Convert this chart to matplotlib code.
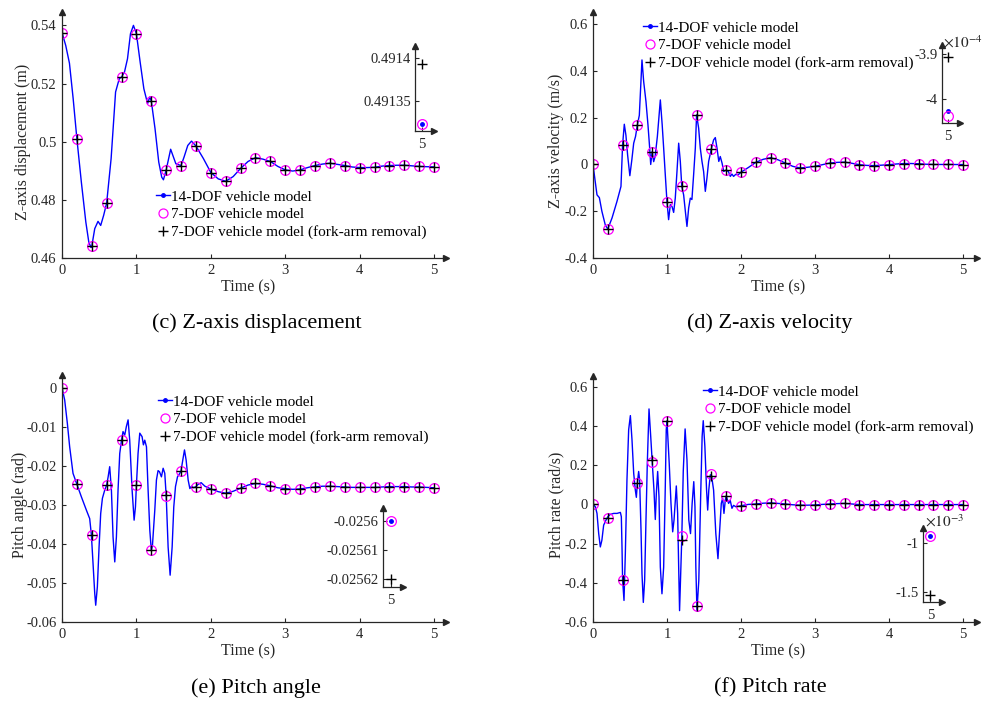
import numpy as np
import matplotlib
matplotlib.use('Agg')
import matplotlib.pyplot as plt
import matplotlib.transforms as mtransforms
from matplotlib.lines import Line2D
from matplotlib.ticker import FormatStrFormatter

plt.rcParams['font.family'] = ['Liberation Serif', 'DejaVu Serif']
plt.rcParams['axes.unicode_minus'] = False
plt.rcParams['mathtext.fontset'] = 'stix'

# sample times of the 7-DOF results
t_mark = [0, 0.2, 0.4, 0.6, 0.8, 1.0, 1.2, 1.4, 1.6, 1.8, 2.0, 2.2, 2.4,
          2.6, 2.8, 3.0, 3.2, 3.4, 3.6, 3.8, 4.0, 4.2, 4.4, 4.6, 4.8, 5.0]

# (c) Z-axis displacement
t_zd = [0, 0.05, 0.1, 0.15, 0.2, 0.26, 0.32, 0.36, 0.39, 0.4, 0.44, 0.484, 0.52,
        0.56, 0.6, 0.66, 0.72, 0.77, 0.8, 0.84, 0.88, 0.92, 0.96, 1.0, 1.05, 1.1,
        1.15, 1.18, 1.2, 1.25, 1.3, 1.34, 1.363, 1.4, 1.46, 1.53, 1.6, 1.64, 1.69,
        1.74, 1.8, 1.9, 2.0, 2.1, 2.2, 2.3, 2.4, 2.5, 2.6, 2.7, 2.8, 2.9, 3.0, 3.1,
        3.2, 3.3, 3.4, 3.5, 3.6, 3.7, 3.8, 3.9, 4.0, 4.1, 4.2, 4.3, 4.4, 4.5, 4.6,
        4.7, 4.8, 4.9, 5.0]
zd_14 = [0.5375, 0.5331, 0.5270, 0.5148, 0.5010, 0.4861, 0.4724, 0.4655, 0.4636,
         0.4640, 0.4701, 0.4726, 0.4712, 0.4747, 0.4789, 0.4942, 0.5171, 0.5217,
         0.5222, 0.5240, 0.5285, 0.5371, 0.5400, 0.5371, 0.5274, 0.5182, 0.5131,
         0.5154, 0.5140, 0.5045, 0.4930, 0.4878, 0.4869, 0.4903, 0.4974, 0.4924,
         0.4918, 0.4947, 0.4987, 0.5002, 0.4985, 0.4942, 0.4894, 0.4872, 0.4864,
         0.4880, 0.4908, 0.4932, 0.4945, 0.4940, 0.4932, 0.4915, 0.4903, 0.4899,
         0.4903, 0.4911, 0.4918, 0.4923, 0.4926, 0.4922, 0.4918, 0.4913, 0.4911,
         0.4911, 0.4912, 0.4916, 0.4918, 0.4919, 0.4919, 0.4917, 0.4915, 0.4914,
         0.491323]
zd_7 = [0.5375, 0.5010, 0.4640, 0.4789, 0.5222, 0.5371, 0.5140, 0.4903, 0.4918,
        0.4985, 0.4894, 0.4864, 0.4908, 0.4945, 0.4932, 0.4903, 0.4903, 0.4918,
        0.4926, 0.4918, 0.4911, 0.4912, 0.4918, 0.4919, 0.4915, 0.491323]
zd_7f = [0.5375, 0.5010, 0.4640, 0.4789, 0.5222, 0.5371, 0.5140, 0.4903, 0.4918,
         0.4985, 0.4894, 0.4864, 0.4908, 0.4945, 0.4932, 0.4903, 0.4903, 0.4918,
         0.4926, 0.4918, 0.4911, 0.4912, 0.4918, 0.4919, 0.4915, 0.491393]

# (d) Z-axis velocity
t_zv = [0, 0.03, 0.054, 0.086, 0.12, 0.167, 0.2, 0.257, 0.324, 0.378, 0.4, 0.423,
        0.445, 0.468, 0.498, 0.525, 0.55, 0.575, 0.6, 0.626, 0.662, 0.685, 0.716,
        0.743, 0.766, 0.78, 0.8, 0.82, 0.84, 0.87, 0.91, 0.935, 0.955, 0.977, 1.0,
        1.022, 1.045, 1.068, 1.09, 1.112, 1.135, 1.158, 1.18, 1.2, 1.225, 1.248,
        1.27, 1.293, 1.315, 1.337, 1.36, 1.383, 1.4, 1.428, 1.45, 1.473, 1.495,
        1.518, 1.54, 1.563, 1.6, 1.63, 1.653, 1.676, 1.7, 1.72, 1.745, 1.766, 1.8,
        1.83, 1.856, 1.878, 1.9, 1.93, 1.96, 2.0, 2.1, 2.2, 2.3, 2.4, 2.5, 2.6,
        2.7, 2.8, 2.9, 3.0, 3.1, 3.2, 3.3, 3.4, 3.5, 3.6, 3.7, 3.8, 3.9, 4.0, 4.1,
        4.2, 4.3, 4.4, 4.5, 4.6, 4.7, 4.8, 4.9, 5.0]
zv_14 = [0, -0.073, -0.13, -0.142, -0.20, -0.26, -0.276, -0.229, -0.158, -0.094,
         0.084, 0.172, 0.125, 0.04, -0.048, 0.02, 0.091, 0.12, 0.17, 0.21, 0.447,
         0.354, 0.269, 0.169, 0.07, 0.0, 0.055, 0.012, 0.035, 0.12, 0.276, 0.17,
         0.07, -0.044, -0.16, -0.236, -0.172, -0.18, -0.205, -0.144, -0.03, 0.091,
         0.013, -0.094, -0.13, -0.2, -0.265, -0.186, -0.144, -0.15, -0.044, 0.07,
         0.212, 0.155, 0.07, 0.013, -0.03, -0.115, -0.058, 0.013, 0.067, 0.105,
         0.115, 0.07, 0.013, 0.034, 0.005, -0.03, -0.024, -0.03, -0.051, -0.041,
         -0.051, -0.042, -0.045, -0.033, -0.013, 0.009, 0.022, 0.029, 0.02, 0.006,
         -0.008, -0.015, -0.012, -0.008, -0.001, 0.006, 0.009, 0.010, 0.005, -0.001,
         -0.004, -0.005, -0.003, -0.001, 0.002, 0.004, 0.004, 0.003, 0.001, 0.0,
         0.0, 0.0, -0.0002, -4.027e-4]
zv_7 = [0, -0.276, 0.084, 0.17, 0.055, -0.16, -0.094, 0.212, 0.067, -0.024, -0.033,
        0.009, 0.029, 0.006, -0.015, -0.008, 0.006, 0.010, -0.001, -0.005, -0.001,
        0.004, 0.003, 0.0, 0.0, -4.037e-4]
zv_7f = [0, -0.276, 0.084, 0.17, 0.055, -0.16, -0.094, 0.212, 0.067, -0.024, -0.033,
         0.009, 0.029, 0.006, -0.015, -0.008, 0.006, 0.010, -0.001, -0.005, -0.001,
         0.004, 0.003, 0.0, 0.0, -3.907e-4]

# (e) Pitch angle
t_pa = [0, 0.036, 0.072, 0.103, 0.148, 0.2, 0.26, 0.327, 0.372, 0.395, 0.417, 0.44,
        0.453, 0.475, 0.498, 0.52, 0.543, 0.574, 0.6, 0.62, 0.641, 0.664, 0.686,
        0.709, 0.731, 0.753, 0.776, 0.8, 0.82, 0.843, 0.865, 0.888, 0.91, 0.942,
        0.969, 0.987, 1.0, 1.022, 1.045, 1.076, 1.094, 1.112, 1.135, 1.157, 1.18,
        1.2, 1.215, 1.247, 1.269, 1.291, 1.31, 1.336, 1.359, 1.381, 1.4, 1.426,
        1.453, 1.48, 1.502, 1.525, 1.552, 1.583, 1.6, 1.623, 1.646, 1.668, 1.695,
        1.718, 1.74, 1.77, 1.8, 1.83, 1.87, 1.92, 2.0, 2.1, 2.2, 2.3, 2.4, 2.5,
        2.6, 2.7, 2.8, 2.9, 3.0, 3.1, 3.2, 3.3, 3.4, 3.5, 3.6, 3.7, 3.8, 3.9, 4.0,
        4.1, 4.2, 4.3, 4.4, 4.5, 4.6, 4.7, 4.8, 4.9, 5.0]
pa_14 = [0, -0.0031, -0.0091, -0.0151, -0.0219, -0.0247, -0.0279, -0.0313, -0.0335,
         -0.0377, -0.045, -0.0527, -0.0557, -0.051, -0.0408, -0.0322, -0.0283,
         -0.0262, -0.0249, -0.0228, -0.0202, -0.0262, -0.0382, -0.0446, -0.0382,
         -0.0262, -0.0168, -0.0134, -0.0112, -0.0121, -0.0099, -0.0082, -0.0134,
         -0.0262, -0.0339, -0.0305, -0.0249, -0.0168, -0.0116, -0.0125, -0.0146,
         -0.0134, -0.0151, -0.0262, -0.0365, -0.0416, -0.0405, -0.0313, -0.0236,
         -0.0212, -0.0215, -0.0228, -0.0206, -0.0219, -0.0276, -0.0408, -0.048,
         -0.0408, -0.0305, -0.0253, -0.0228, -0.0219, -0.0212, -0.0185, -0.0159,
         -0.0185, -0.0236, -0.0258, -0.0252, -0.0256, -0.0253, -0.0247, -0.0243,
         -0.0252, -0.0259, -0.0266, -0.0270, -0.0265, -0.0257, -0.0249, -0.0245,
         -0.0247, -0.0251, -0.0256, -0.0258, -0.0260, -0.0259, -0.0256, -0.0254,
         -0.0252, -0.0252, -0.0253, -0.0254, -0.0255, -0.0255, -0.0255, -0.0255,
         -0.0254, -0.0253, -0.0253, -0.0253, -0.0254, -0.0254, -0.0255, -0.0256]
pa_7 = [0, -0.0247, -0.0377, -0.0249, -0.0134, -0.0249, -0.0416, -0.0277, -0.0212,
        -0.0253, -0.0259, -0.0270, -0.0257, -0.0245, -0.0251, -0.0258, -0.0259,
        -0.0254, -0.0252, -0.0254, -0.0255, -0.0255, -0.0253, -0.0253, -0.0254,
        -0.0256]
pa_7f = [0, -0.0247, -0.0377, -0.0249, -0.0134, -0.0249, -0.0416, -0.0274, -0.0212,
         -0.0253, -0.0259, -0.0270, -0.0257, -0.0245, -0.0251, -0.0258, -0.0259,
         -0.0254, -0.0252, -0.0254, -0.0255, -0.0255, -0.0253, -0.0253, -0.0254,
         -0.02562]

# (f) Pitch rate
t_pr = [0, 0.032, 0.054, 0.077, 0.099, 0.12, 0.144, 0.176, 0.2, 0.234, 0.28, 0.324,
        0.37, 0.383, 0.392, 0.4, 0.419, 0.437, 0.459, 0.482, 0.505, 0.527, 0.55,
        0.572, 0.586, 0.6, 0.617, 0.63, 0.649, 0.662, 0.68, 0.698, 0.716, 0.734,
        0.757, 0.78, 0.8, 0.824, 0.842, 0.856, 0.874, 0.892, 0.91, 0.932, 0.955,
        0.977, 0.99, 1.0, 1.03, 1.054, 1.077, 1.095, 1.113, 1.126, 1.144, 1.158,
        1.17, 1.2, 1.22, 1.245, 1.27, 1.295, 1.318, 1.34, 1.362, 1.378, 1.39, 1.405,
        1.43, 1.455, 1.475, 1.49, 1.512, 1.535, 1.55, 1.565, 1.585, 1.6, 1.63, 1.66,
        1.689, 1.712, 1.734, 1.752, 1.77, 1.788, 1.8, 1.833, 1.855, 1.878, 1.9,
        1.93, 2.0, 2.1, 2.2, 2.3, 2.4, 2.5, 2.6, 2.7, 2.8, 2.9, 3.0, 3.1, 3.2, 3.3,
        3.4, 3.5, 3.6, 3.8, 4.0, 4.2, 4.4, 4.6, 4.8, 5.0]
pr_14 = [0, -0.012, -0.046, -0.149, -0.217, -0.183, -0.106, -0.08, -0.063, -0.051,
         -0.046, -0.046, -0.041, -0.063, -0.217, -0.385, -0.49, -0.251, 0.125, 0.381,
         0.453, 0.33, 0.159, 0.073, 0.036, 0.111, 0.168, 0.125, -0.132, -0.354, -0.5,
         -0.388, -0.08, 0.21, 0.487, 0.347, 0.22, 0.073, -0.077, 0.056, 0.168, 0.039,
         -0.32, -0.456, -0.32, 0.09, 0.38, 0.426, 0.21, 0.005, -0.14, -0.08, 0.022,
         0.094, -0.046, -0.32, -0.542, -0.17, 0.17, 0.385, 0.227, -0.08, -0.149,
         0.005, 0.116, -0.012, -0.32, -0.54, -0.388, 0.039, 0.347, 0.427, 0.296,
         0.073, -0.029, 0.073, 0.15, 0.152, 0.073, -0.149, -0.277, -0.132, 0.005,
         0.031, -0.046, 0.022, 0.043, 0.005, 0.02, -0.02, -0.005, -0.012, -0.007,
         0.0, 0.002, 0.006, 0.008, 0.005, 0.002, -0.002, -0.004, -0.004, -0.003,
         0.0, 0.002, 0.004, 0.005, 0.002, -0.001, -0.001, -0.001, -0.001, -0.001,
         -0.001, -0.001, -0.00093]
pr_7 = [0, -0.067, -0.385, 0.111, 0.215, 0.426, -0.161, -0.518, 0.154, 0.043, -0.007,
        0.002, 0.008, 0.002, -0.004, -0.003, 0.002, 0.005, -0.001, -0.001, -0.001,
        -0.001, -0.001, -0.001, -0.001, -0.00093]
pr_7f = [0, -0.067, -0.385, 0.111, 0.225, 0.426, -0.18, -0.518, 0.147, 0.043, -0.007,
         0.002, 0.008, 0.002, -0.004, -0.003, 0.002, 0.005, -0.001, -0.001, -0.001,
         -0.001, -0.001, -0.001, -0.001, -0.00153]

labels = ['14-DOF vehicle model', '7-DOF vehicle model',
          '7-DOF vehicle model (fork-arm removal)']

W, H = 989, 702
fig = plt.figure(figsize=(9.89, 7.02), dpi=100)


def rect(l, r, b, t):
    return [l / W, 1 - b / H, (r - l) / W, (b - t) / H]


def arrow_axes(ax, ms=5):
    for s in ['top', 'right']:
        ax.spines[s].set_visible(False)
    for s in ['left', 'bottom']:
        ax.spines[s].set_color('#262626')
        ax.spines[s].set_linewidth(0.9)
    ax.plot(1, 0, '>', color='#262626', ms=ms, transform=ax.transAxes, clip_on=False)
    ax.plot(0, 1, '^', color='#262626', ms=ms, transform=ax.transAxes, clip_on=False)
    ax.tick_params(direction='in', length=3, width=0.8, labelsize=10.5, colors='#262626')
    ax.patch.set_alpha(0)


def panel(box, t, v14, v7, v7f, xmax, ylim, yticks, ylabel, ylab_off, leg_xy):
    ax = fig.add_axes(rect(*box))
    ax.plot(t, v14, color='#0000ff', lw=1.0)
    ax.plot(t_mark, v7, ls='none', marker='o', mfc='none', mec='#ff00ff', ms=7, mew=0.9)
    ax.plot(t_mark, v7f, ls='none', marker='+', color='k', ms=7, mew=1.0)
    ax.set_xlim(0, xmax)
    ax.set_ylim(*ylim)
    ax.set_xticks([0, 1, 2, 3, 4, 5])
    ax.set_yticks(yticks)
    ax.yaxis.set_major_formatter(FormatStrFormatter('%g'))
    ax.tick_params(axis='y', pad=4)
    ax.tick_params(axis='x', pad=4)
    arrow_axes(ax)
    ax.set_xlabel('Time (s)', fontsize=11.5, color='#262626')
    ax.xaxis.set_label_coords(2.5, -0.085,
                              transform=mtransforms.blended_transform_factory(ax.transData, ax.transAxes))
    ax.set_ylabel(ylabel, fontsize=11.5, color='#262626')
    axw = (box[1] - box[0])
    ax.yaxis.set_label_coords(-ylab_off / axw, (yticks[0] + yticks[-1]) / 2,
                              transform=mtransforms.blended_transform_factory(ax.transAxes, ax.transData))
    handles = [Line2D([], [], color='#0000ff', lw=1.0, marker='.', ms=5),
               Line2D([], [], ls='none', marker='o', mfc='none', mec='#ff00ff', ms=6.5, mew=0.9),
               Line2D([], [], ls='none', marker='+', color='k', ms=6.5, mew=1.0)]
    ax.legend(handles, labels, loc='upper left', bbox_to_anchor=(leg_xy[0] / W, 1 - leg_xy[1] / H),
              bbox_transform=fig.transFigure, frameon=False, borderpad=0, borderaxespad=0,
              handlelength=0.9, handletextpad=0.05, labelspacing=0.26, fontsize=11)
    return ax


def inset(box, xlim, ylim, yticks, ytlabels, e14, e7, e7f):
    ax = fig.add_axes(rect(*box))
    ax.plot(5, e14, ls='none', marker='.', color='#0000ff', ms=5)
    ax.plot(5, e7, ls='none', marker='o', mfc='none', mec='#ff00ff', ms=7, mew=0.9)
    ax.plot(5, e7f, ls='none', marker='+', color='k', ms=7, mew=1.0)
    ax.set_xlim(*xlim)
    ax.set_ylim(*ylim)
    ax.set_xticks([5])
    ax.set_xticklabels(['5'])
    ax.set_yticks(yticks)
    ax.set_yticklabels(ytlabels)
    arrow_axes(ax, ms=4.5)
    ax.tick_params(axis='y', pad=3)
    ax.tick_params(axis='x', pad=5)
    return ax


ax_c = panel((62, 446, 258, 12), t_zd, zd_14, zd_7, zd_7f, 5.16, (0.46, 0.5446),
             [0.46, 0.48, 0.5, 0.52, 0.54], 'Z-axis displacement (m)', 31, (156, 190))
ax_d = panel((593, 977, 258, 12), t_zv, zv_14, zv_7, zv_7f, 5.19, (-0.4, 0.652),
             [-0.4, -0.2, 0, 0.2, 0.4, 0.6], 'Z-axis velocity (m/s)', 29, (643, 21))
ax_e = panel((62, 446, 622, 375), t_pa, pa_14, pa_7, pa_7f, 5.16, (-0.06, 0.0033),
             [-0.06, -0.05, -0.04, -0.03, -0.02, -0.01, 0], 'Pitch angle (rad)', 34, (158, 395))
ax_f = panel((593, 977, 622, 376), t_pr, pr_14, pr_7, pr_7f, 5.19, (-0.6, 0.655),
             [-0.6, -0.4, -0.2, 0, 0.2, 0.4, 0.6], 'Pitch rate (rad/s)', 29, (703, 385))

inset((415, 434, 131, 46), (4.99, 5.017), (0.491315, 0.491414), [0.49135, 0.4914],
      ['0.49135', '0.4914'], zd_14[-1], zd_7[-1], zd_7f[-1])
inset((942, 960, 123, 45), (4.99, 5.02), (-4.0533e-4, -3.88e-4), [-4e-4, -3.9e-4],
      ['-4', '-3.9'], zv_14[-1], zv_7[-1], zv_7f[-1])
inset((383, 403, 587, 508), (4.99, 5.015), (-0.0256228, -0.0255955),
      [-0.02562, -0.02561, -0.0256], ['-0.02562', '-0.02561', '-0.0256'],
      pa_14[-1], pa_7[-1], pa_7f[-1])
inset((923, 942, 602, 528), (4.99, 5.0156), (-1.602e-3, -0.847e-3), [-1.5e-3, -1e-3],
      ['-1.5', '-1'], pr_14[-1], pr_7[-1], pr_7f[-1])

# scale factors of the small axes
fig.text(943 / W, 1 - 48 / H, r'$\times10^{-4}$', fontsize=11, color='#262626')
fig.text(925 / W, 1 - 527 / H, r'$\times10^{-3}$', fontsize=11, color='#262626')

captions = ['(c) Z-axis displacement', '(d) Z-axis velocity', '(e) Pitch angle', '(f) Pitch rate']
cap_xy = [(257, 323), (770, 323), (256, 688), (770, 688)]
for txt, (x, y) in zip(captions, cap_xy):
    fig.text(x / W, 1 - y / H, txt, ha='center', va='center', fontsize=16)

fig.savefig('out.png', dpi=100)
